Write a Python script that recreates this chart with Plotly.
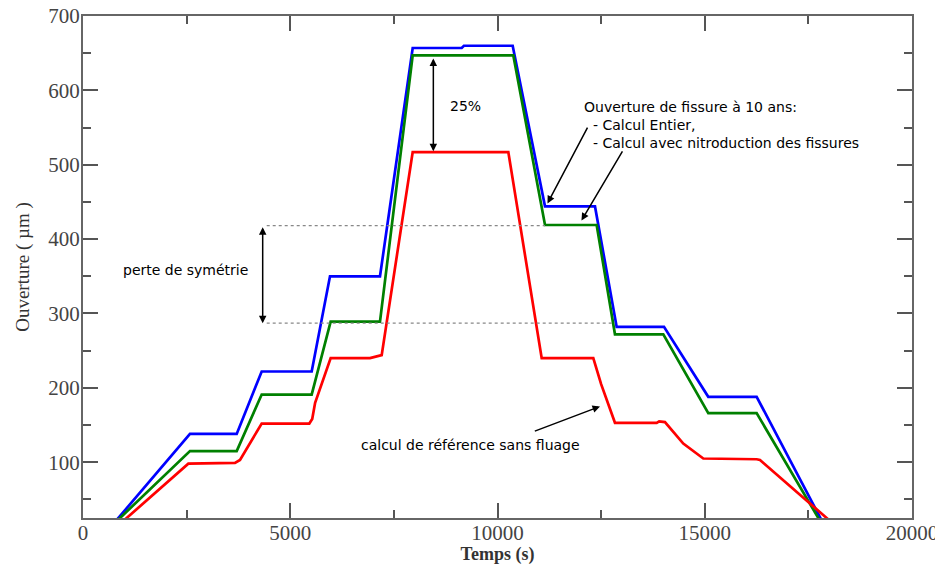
import plotly.graph_objects as go

# ---- data ----
t_entier = [470, 2581, 3708, 4311, 5517, 5959, 7165, 7954, 9136, 9190, 10366, 11146, 12352, 12875, 14017, 15085, 16252, 18025]
o_entier = [0, 138, 138, 222, 222, 350, 350, 657, 657, 660, 660, 444, 444, 282, 282, 188, 188, 0]

t_intro = [424, 2581, 3708, 4311, 5517, 5975, 7165, 7954, 10382, 11146, 12392, 12834, 14000, 15085, 16252, 18003]
o_intro = [0, 115, 115, 191, 191, 289, 289, 647, 647, 419, 419, 272, 272, 166, 166, 0]

t_ref = [545, 2541, 3667, 3788, 4311, 5460, 5530, 5600, 5975, 6924, 7206, 7954, 10261, 11066, 12311, 12500, 12834,
         13840, 13900, 14040, 14482, 14965, 16252, 16333, 18456]
o_ref = [0, 98, 99, 103, 152, 152, 158, 180, 240, 240, 244, 517, 517, 240, 240, 205, 153,
         153, 155, 154, 125, 105, 104, 103, 0]

x_ticks = [0, 5000, 10000, 15000, 20000]
y_ticks = [100, 200, 300, 400, 500, 600, 700]
y_minor = [50, 150, 250, 350, 450, 550, 650]
x_range = [0, 20000]
y_range = [25, 700]

# annotation anchors (data coordinates)
sym_x, sym_top, sym_bot = 4335, 418, 287
dot_x0, dot_x1_top, dot_x1_bot = 4432, 11146, 12754
pct_x, pct_top, pct_bot = 8452, 645, 518

fig = go.Figure()
fig.add_trace(go.Scatter(x=t_entier, y=o_entier, mode="lines", line=dict(color="#0000ff", width=2.7)))
fig.add_trace(go.Scatter(x=t_intro, y=o_intro, mode="lines", line=dict(color="#008000", width=2.7)))
fig.add_trace(go.Scatter(x=t_ref, y=o_ref, mode="lines", line=dict(color="#ff0000", width=2.7)))

# dotted guide lines
for x1, yv in [(dot_x1_top, sym_top), (dot_x1_bot, sym_bot)]:
    fig.add_shape(type="line", x0=dot_x0, x1=x1, y0=yv, y1=yv, xref="x", yref="y",
                  line=dict(color="#888888", width=1.2, dash="dot"))

afont = dict(family="DejaVu Sans", size=14, color="black")

ann = []
# perte de symétrie double arrow
ann.append(dict(x=sym_x, y=sym_bot, ax=sym_x, ay=sym_top, xref="x", yref="y", axref="x", ayref="y",
                showarrow=True, arrowhead=2, arrowside="end+start", arrowsize=1, arrowwidth=1.5,
                arrowcolor="black", text=""))
ann.append(dict(x=2461, y=359, xref="x", yref="y", text="perte de symétrie", showarrow=False, font=afont))
# 25 % double arrow
ann.append(dict(x=pct_x, y=pct_bot, ax=pct_x, ay=pct_top, xref="x", yref="y", axref="x", ayref="y",
                showarrow=True, arrowhead=2, arrowside="end+start", arrowsize=1, arrowwidth=1.5,
                arrowcolor="black", text=""))
ann.append(dict(x=9216, y=579, xref="x", yref="y", text="25%", showarrow=False, font=afont))
# legend-like text block
ann.append(dict(x=12038, y=591, xref="x", yref="y", xanchor="left", yanchor="top", align="left",
                text="Ouverture de fissure à 10 ans:<br>\u00a0\u00a0- Calcul Entier,<br>\u00a0\u00a0- Calcul avec nitroduction des fissures",
                showarrow=False, font=afont))
ann.append(dict(x=11206, y=448, ax=12190, ay=552, xref="x", yref="y", axref="x", ayref="y",
                showarrow=True, arrowhead=2, arrowsize=1, arrowwidth=1.5, arrowcolor="black", text=""))
ann.append(dict(x=12026, y=425, ax=13035, ay=520, xref="x", yref="y", axref="x", ayref="y",
                showarrow=True, arrowhead=2, arrowsize=1, arrowwidth=1.5, arrowcolor="black", text=""))
# reference text
ann.append(dict(x=9356, y=123, xref="x", yref="y", text="calcul de référence sans fluage", showarrow=False, font=afont))
ann.append(dict(x=12473, y=175, ax=10864, ay=141, xref="x", yref="y", axref="x", ayref="y",
                showarrow=True, arrowhead=2, arrowsize=1, arrowwidth=1.5, arrowcolor="black", text=""))
fig.update_layout(annotations=ann)

tickfont = dict(family="Liberation Serif", size=21, color="#444444")
axis_common = dict(showline=True, linecolor="#666666", linewidth=2, mirror="allticks",
                   ticks="inside", ticklen=15, tickwidth=2, tickcolor="#555555",
                   showgrid=False, zeroline=False, tickfont=tickfont, ticklabeloverflow="allow")

fig.update_xaxes(range=x_range, tickvals=x_ticks, ticktext=[str(v) for v in x_ticks], ticklabelstandoff=-5,
                 minor=dict(dtick=2500, ticks="inside", ticklen=8, tickwidth=2, tickcolor="#555555", showgrid=False),
                 title=dict(text="<b>Temps (s)</b>", font=dict(family="Liberation Serif", size=18, color="#333333"), standoff=10),
                 **axis_common)
fig.update_yaxes(range=y_range, tickvals=y_ticks, ticktext=[str(v) for v in y_ticks], ticklabelstandoff=-3,
                 minor=dict(tickvals=y_minor, ticks="inside", ticklen=8, tickwidth=2,
                            tickcolor="#555555", showgrid=False),
                 title=dict(text="Ouverture ( µm )", font=dict(family="Liberation Serif", size=19, color="#333333"), standoff=14),
                 **axis_common)

# the page body adds an 8 px margin, so the figure is sized/offset to compensate
fig.update_layout(width=935, height=557, margin=dict(l=75, r=31, t=8, b=47, autoexpand=False),
                  plot_bgcolor="white", paper_bgcolor="white", showlegend=False)

fig.write_html("out.html")
